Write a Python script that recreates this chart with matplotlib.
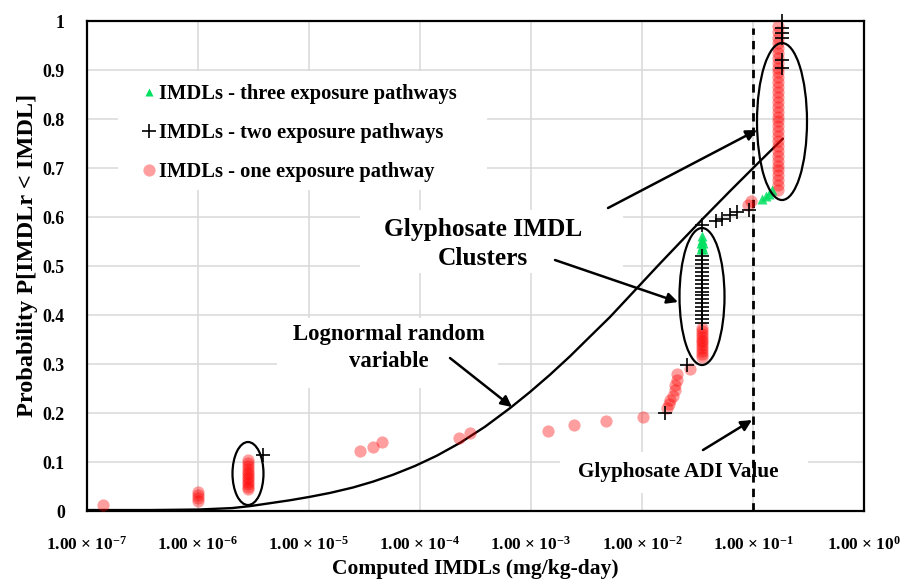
import matplotlib
matplotlib.use("Agg")
import matplotlib.pyplot as plt
from matplotlib.patches import Ellipse, Rectangle
from matplotlib.lines import Line2D

plt.rcParams["font.family"] = ["Liberation Serif", "DejaVu Serif"]
plt.rcParams["font.weight"] = "bold"
plt.rcParams["mathtext.fontset"] = "custom"
plt.rcParams["mathtext.rm"] = "Liberation Serif:bold"
plt.rcParams["mathtext.default"] = "rm"

# ---- data -------------------------------------------------------------
# IMDLs from one exposure pathway
one_x = [1.4e-7,
         1.0e-6, 1.0e-6, 1.0e-6, 1.0e-6,
         2.8e-6, 2.8e-6, 2.8e-6, 2.8e-6, 2.8e-6, 2.8e-6, 2.8e-6, 2.8e-6,
         2.8e-6, 2.8e-6, 2.8e-6, 2.8e-6,
         2.9e-5, 3.8e-5, 4.5e-5,
         2.24e-4, 2.8e-4,
         1.42e-3, 2.45e-3, 4.7e-3, 1.02e-2,
         0.0168, 0.0175, 0.0179, 0.019, 0.0198, 0.0200, 0.0206, 0.0206, 0.027,
         0.0348, 0.0348, 0.0348, 0.0348, 0.0348, 0.0348, 0.0348, 0.0348,
         0.0348, 0.0348, 0.0348,
         0.090, 0.095,
         0.168, 0.168, 0.168, 0.168, 0.168, 0.168, 0.168, 0.168, 0.168, 0.168,
         0.168, 0.168, 0.168, 0.168, 0.168, 0.168, 0.168, 0.168, 0.168, 0.168,
         0.168, 0.168, 0.168, 0.168, 0.168, 0.168, 0.168, 0.168, 0.168, 0.168,
         0.168, 0.168, 0.168, 0.168]
one_y = [0.012,
         0.020, 0.027, 0.033, 0.039,
         0.045, 0.050, 0.055, 0.060, 0.065, 0.070, 0.075, 0.080,
         0.086, 0.092, 0.098, 0.105,
         0.122, 0.131, 0.140,
         0.149, 0.159,
         0.163, 0.176, 0.184, 0.192,
         0.210, 0.218, 0.226, 0.235, 0.247, 0.257, 0.267, 0.280, 0.290,
         0.314, 0.320, 0.326, 0.332, 0.338, 0.344, 0.350, 0.356,
         0.362, 0.368, 0.374,
         0.624, 0.632,
         0.655, 0.665, 0.675, 0.685, 0.695, 0.705, 0.715, 0.725, 0.735, 0.745,
         0.755, 0.765, 0.775, 0.785, 0.795, 0.805, 0.815, 0.825, 0.835, 0.845,
         0.855, 0.865, 0.875, 0.885, 0.895, 0.905, 0.915, 0.925, 0.935, 0.945,
         0.955, 0.966, 0.978, 0.990]

# IMDLs from two exposure pathways
two_x = [3.86e-6, 0.0161, 0.0254,
         0.0348, 0.0348, 0.0348, 0.0348, 0.0348, 0.0348, 0.0348, 0.0348, 0.0348,
         0.0348, 0.0348, 0.0348, 0.0348, 0.0348, 0.0348, 0.0348, 0.0348, 0.0348,
         0.0350, 0.0465, 0.0527, 0.0621, 0.0718, 0.0924,
         0.182, 0.182, 0.182, 0.182, 0.182, 0.182]
two_y = [0.114, 0.200, 0.298,
         0.384, 0.392, 0.400, 0.408, 0.416, 0.424, 0.432, 0.440, 0.448,
         0.456, 0.464, 0.472, 0.480, 0.488, 0.496, 0.504, 0.512, 0.520,
         0.584, 0.592, 0.596, 0.604, 0.610, 0.614,
         0.905, 0.920, 0.965, 0.975, 0.985, 1.000]

# IMDLs from three exposure pathways
three_x = [0.0340, 0.0356, 0.0348, 0.0340, 0.0356, 0.0348, 0.0348,
           0.120, 0.130, 0.140, 0.148]
three_y = [0.535, 0.535, 0.540, 0.547, 0.547, 0.553, 0.562,
           0.637, 0.642, 0.648, 0.655]

# Lognormal random variable (cumulative probability)
logn_x = [1.0e-7, 3.70e-7, 1.0e-6, 2.02e-6, 2.94e-6, 4.46e-6, 6.75e-6,
          1.02e-5, 1.55e-5, 2.49e-5, 3.77e-5, 5.71e-5, 9.02e-5, 1.42e-4,
          2.29e-4, 3.85e-4, 6.47e-4, 9.80e-4, 1.48e-3, 2.25e-3, 3.40e-3,
          5.15e-3, 9.02e-3, 1.45e-2, 2.20e-2, 3.55e-2, 6.21e-2, 0.111, 0.186]
logn_y = [0.002, 0.002, 0.003, 0.006, 0.010, 0.016, 0.022,
          0.029, 0.037, 0.048, 0.060, 0.074, 0.092, 0.113,
          0.139, 0.172, 0.210, 0.243, 0.278, 0.316, 0.356,
          0.396, 0.455, 0.505, 0.548, 0.597, 0.653, 0.710, 0.760]

adi_value = 0.1

x_ticks = [1e-7, 1e-6, 1e-5, 1e-4, 1e-3, 1e-2, 1e-1, 1e0]
x_tick_labels = [r"1.00 × 10$^{-7}$", r"1.00 × 10$^{-6}$", r"1.00 × 10$^{-5}$",
                 r"1.00 × 10$^{-4}$", r"1.00 × 10$^{-3}$", r"1.00 × 10$^{-2}$",
                 r"1.00 × 10$^{-1}$", r"1.00 × 10$^{0}$"]
y_ticks = [0, 0.1, 0.2, 0.3, 0.4, 0.5, 0.6, 0.7, 0.8, 0.9, 1]
y_tick_labels = ["0", "0.1", "0.2", "0.3", "0.4", "0.5", "0.6", "0.7", "0.8", "0.9", "1"]

# ---- figure -----------------------------------------------------------
fig = plt.figure(figsize=(9.09, 5.79), dpi=100)
ax = fig.add_axes([0.0957, 0.1174, 0.8548, 0.8463])

ax.set_xscale("log")
ax.set_xlim(1e-7, 1e0)
ax.set_ylim(0, 1)
ax.set_xticks(x_ticks)
ax.set_xticklabels(x_tick_labels)
ax.minorticks_off()
ax.set_yticks(y_ticks)
ax.set_yticklabels(y_tick_labels)
ax.tick_params(axis="x", length=0, pad=17.5, labelsize=12.5)
ax.tick_params(axis="y", length=0, pad=16, labelsize=12.8)
ax.grid(True, color="#d9d9d9", lw=1.1, zorder=0)
ax.set_axisbelow(True)
for s in ax.spines.values():
    s.set_linewidth(1.6)
    s.set_color("black")

ax.set_xlabel("Computed IMDLs (mg/kg-day)", fontsize=15.5, fontweight="bold")
ax.set_ylabel("Probability P[IMDLr < IMDL]", fontsize=17.5, fontweight="bold")
ax.xaxis.set_label_coords(0.5, -0.097)
ax.yaxis.set_label_coords(-0.063, 0.522)


def px(xp, yp):
    """pixel position in the figure -> axes fraction"""
    return ((xp - 87) / 777.0, (511 - yp) / 490.0)


# white panels behind the legend and labels
for (x0, y0, x1, y1) in [(118, 71, 487, 190), (360, 210, 623, 273),
                         (277, 318, 498, 388), (560, 452, 808, 493)]:
    a0 = px(x0, y1)
    a1 = px(x1, y0)
    ax.add_patch(Rectangle(a0, a1[0] - a0[0], a1[1] - a0[1], transform=ax.transAxes,
                           facecolor="white", edgecolor="none", zorder=0.8))

# ADI reference line
adi = ax.axvline(adi_value, ymax=0.985, color="black", lw=2.0, zorder=2)
adi.set_dashes([3, 2.2])

# lognormal curve
ax.plot(logn_x, logn_y, color="black", lw=1.7, zorder=2.5,
        solid_capstyle="round", solid_joinstyle="round")

# IMDL points
ax.plot(one_x, one_y, "o", color="#ff0000", alpha=0.38, ms=8.8, mec="none", zorder=3)
ax.plot(two_x, two_y, "+", color="black", ms=10, mew=1.2, zorder=3.5, clip_on=False)
ax.plot(three_x, three_y, "^", color="#00e060", alpha=0.85, ms=7, mec="none", zorder=3.2)

# cluster ellipses
for (cx, cy, w, h) in [(248, 473.5, 31, 63), (702, 296.5, 45, 137), (782, 121.5, 50, 157)]:
    c = px(cx, cy)
    ax.add_patch(Ellipse(c, w / 777.0, h / 490.0, transform=ax.transAxes,
                         fill=False, edgecolor="black", lw=1.6, zorder=4))

# annotation texts
ax.text(*px(483, 244), "Glyphosate IMDL\nClusters", transform=ax.transAxes,
        ha="center", va="center", fontsize=18.3, fontweight="bold", linespacing=1.3, zorder=5)
ax.text(*px(389, 348), "Lognormal random\nvariable", transform=ax.transAxes,
        ha="center", va="center", fontsize=16.4, fontweight="bold", linespacing=1.37, zorder=5)
ax.text(*px(678, 472), "Glyphosate ADI Value", transform=ax.transAxes,
        ha="center", va="center", fontsize=15.2, fontweight="bold", zorder=5)

arrow_kw = dict(arrowstyle="-|>", color="black", lw=1.8, mutation_scale=16,
                shrinkA=0, shrinkB=0)
for tail, head in [((608, 208), (757, 130)), ((555, 260), (678, 302)),
                   ((450, 358), (512, 407)), ((703, 450), (752, 420))]:
    ax.annotate("", xy=px(*head), xytext=px(*tail), xycoords="axes fraction",
                textcoords="axes fraction", arrowprops=arrow_kw, zorder=5)

# legend
handles = [
    Line2D([], [], ls="none", marker="^", color="#00e060", ms=6, mec="none"),
    Line2D([], [], ls="none", marker="+", color="black", ms=10, mew=1.2),
    Line2D([], [], ls="none", marker="o", color="#ff0000", alpha=0.38, ms=8.8, mec="none"),
]
labels = ["IMDLs - three exposure pathways", "IMDLs - two exposure pathways",
          "IMDLs - one exposure pathway"]
leg = ax.legend(handles, labels, loc="upper left", bbox_to_anchor=px(143, 84),
                frameon=False, borderpad=0, borderaxespad=0, handlelength=0.6,
                handletextpad=0.2, labelspacing=0.92,
                prop={"family": "Liberation Serif", "weight": "bold", "size": 14.8})
leg.set_zorder(6)

fig.savefig("out.png", dpi=100)
